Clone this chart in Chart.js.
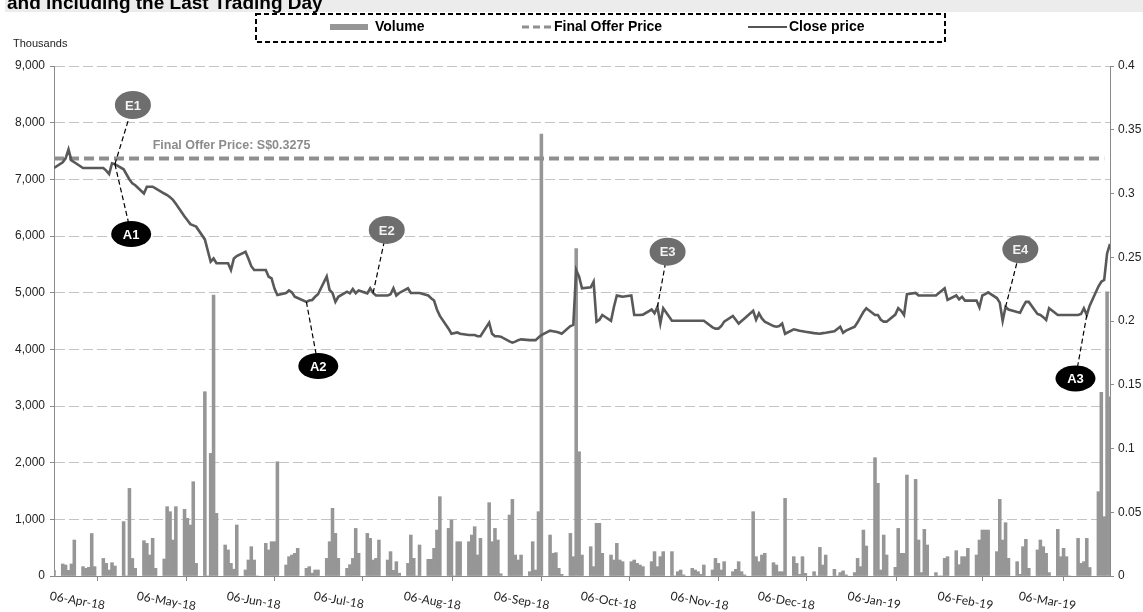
<!DOCTYPE html>
<html>
<head>
<meta charset="utf-8">
<title>Volume and close price</title>
<script src="https://cdn.jsdelivr.net/npm/chart.js@4.4.0/dist/chart.umd.min.js"></script>
<style>
  html, body { margin: 0; padding: 0; background: #fff; }
  #wrap { position: relative; width: 1143px; height: 612px; }
</style>
</head>
<body>
<div id="wrap"><canvas id="priceChart" width="1143" height="612"></canvas></div>
<script>
// day 0 = 06-Apr-18, last day = 05-Apr-19; one value per weekday
const lastDay = 364;
const monthTicks = [0, 30, 61, 91, 122, 153, 183, 214, 244, 275, 306, 334];
const monthLabels = ['06-Apr-18', '06-May-18', '06-Jun-18', '06-Jul-18', '06-Aug-18', '06-Sep-18',
  '06-Oct-18', '06-Nov-18', '06-Dec-18', '06-Jan-19', '06-Feb-19', '06-Mar-19'];

const volumeTicks = [0, 1000, 2000, 3000, 4000, 5000, 6000, 7000, 8000, 9000];
const priceTicks = [0, 0.05, 0.1, 0.15, 0.2, 0.25, 0.3, 0.35, 0.4];

const finalOfferPrice = 0.3275;

// traded volume ('000 shares), Fri 06-Apr-18 then Mon..Fri per week
const volume = [
  100,
  212, 194, 100, 212, 635,
  165, 135, 153, 750, 165,
  310, 223, 105, 235, 176,
  960, 0, 1546, 310, 135,
  623, 576, 370, 665, 135,
  300, 1223, 1135, 635, 1223,
  1176, 1017, 900, 1664, 223,
  3252, 0, 2164, 4957, 1105,
  547, 460, 223, 120, 900,
  106, 282, 517, 282, 0,
  576, 460, 605, 605, 2016,
  194, 341, 370, 400, 488,
  135, 165, 50, 106, 106,
  311, 605, 1194, 752, 311,
  135, 200, 311, 840, 400,
  752, 664, 282, 311, 635,
  282, 430, 100, 253, 50,
  223, 723, 311, 0, 547,
  294, 294, 488, 811, 1400,
  840, 988, 0, 605, 605,
  605, 723, 870, 370, 664,
  1294, 605, 840, 635, 40,
  1076, 1352, 370, 282, 370,
  76, 605, 105, 1135, 7800,
  723, 400, 412, 135, 30,
  752, 341, 5780, 2193, 370,
  517, 165, 929, 929, 400,
  370, 282, 576, 282, 253,
  253, 282, 223, 194, 165,
  253, 430, 165, 341, 430,
  430, 0, 76, 106, 20,
  135, 106, 76, 30, 194,
  106, 311, 223, 106, 253,
  76, 118, 253, 76, 20,
  1135, 341, 253, 370, 400,
  235, 194, 76, 76, 1370,
  341, 223, 30, 341, 47,
  76, 0, 505, 194, 370,
  118, 0, 60, 90, 20,
  60, 311, 165, 811, 529,
  2088, 1635, 106, 723, 370,
  153, 840, 400, 400, 1782,
  1705, 635, 60, 823, 547,
  60, 0, 0, 311, 341,
  447, 200, 341, 341, 488,
  370, 635, 811, 811, 811,
  430, 1352, 635, 941, 311,
  253, 30, 517, 647, 135,
  460, 635, 517, 400, 60,
  823, 341, 488, 341, 0,
  664, 223, 253, 664, 150,
  1488, 3240, 1047, 5016, 3164
];

// close price (S$), same layout; null on market holidays
const closePrice = [
  0.320,
  0.3245, 0.3276, 0.3346, 0.326, 0.3245,
  0.320, 0.320, 0.320, 0.320, 0.320,
  0.320, 0.318, 0.3153, 0.3237, 0.323,
  0.319, null, 0.311, 0.308, 0.3065,
  0.300, 0.3053, 0.3053, 0.3053, 0.304,
  0.300, 0.2988, 0.297, 0.295, 0.292,
  0.282, 0.279, 0.276, 0.275, 0.274,
  0.264, null, 0.2465, 0.249, 0.2453,
  0.2453, 0.2453, 0.240, 0.249, 0.251,
  0.2543, 0.249, 0.243, 0.240, null,
  0.240, 0.2347, 0.2335, 0.2255, 0.2204,
  0.222, 0.224, 0.2225, 0.219, 0.218,
  0.215, 0.216, 0.2165, 0.219, 0.221,
  0.235, 0.2243, 0.222, 0.215, 0.219,
  0.223, 0.2217, 0.225, 0.2217, 0.224,
  0.2217, 0.2257, 0.222, 0.220, 0.220,
  0.220, 0.221, 0.2257, 0.220, 0.222,
  0.2257, 0.222, 0.222, null, 0.222,
  0.220, 0.2178, 0.216, 0.209, 0.204,
  0.194, 0.190, null, 0.191, 0.190,
  0.189, 0.189, 0.189, 0.188, 0.188,
  0.1987, 0.190, 0.188, 0.188, 0.1877,
  0.184, 0.183, 0.1838, 0.185, 0.1856,
  0.185, 0.185, 0.185, 0.187, 0.189,
  0.1924, 0.192, 0.1916, 0.191, 0.190,
  0.196, 0.197, 0.240, 0.2348, 0.2257,
  0.2264, 0.2308, 0.1995, 0.201, 0.2047,
  0.2002, 0.211, 0.220, 0.2195, 0.219,
  0.220, 0.2047, 0.2047, 0.2047, 0.205,
  0.209, 0.206, 0.211, 0.198, 0.210,
  0.2002, null, 0.2002, 0.2002, 0.2002,
  0.2002, 0.2002, 0.2002, 0.2002, 0.2002,
  0.195, 0.194, 0.194, 0.196, 0.1995,
  0.204, 0.201, 0.198, 0.200, 0.202,
  0.208, 0.201, 0.206, 0.202, 0.1995,
  0.196, 0.1955, 0.196, 0.198, 0.190,
  0.1935, 0.193, 0.1924, 0.192, 0.1915,
  0.1905, null, 0.190, 0.1905, 0.1908,
  0.192, null, 0.1955, 0.1908, 0.1924,
  0.1955, 0.199, 0.203, 0.207, 0.210,
  0.2047, 0.2047, 0.201, 0.1995, 0.1995,
  0.205, 0.210, 0.208, 0.2047, 0.221,
  0.222, 0.220, 0.220, 0.220, 0.220,
  0.220, null, null, 0.2257, 0.2165,
  0.220, 0.217, 0.219, 0.216, 0.216,
  0.216, 0.2107, 0.220, 0.221, 0.2225,
  0.218, 0.2144, 0.2002, 0.211, 0.209,
  0.207, 0.2065, 0.211, 0.215, 0.215,
  0.2055, 0.2047, 0.203, 0.2008, 0.210,
  0.2047, 0.2047, 0.2047, 0.2047, 0.2047,
  0.2047, 0.2055, 0.210, 0.2047, 0.212,
  0.227, 0.2308, 0.2322, 0.253, 0.2604
];

// event / announcement markers: day on the close line, bubble centre (day, price)
const callouts = [
  { text: 'E1', day: 21, at: [27.2, 0.3694], kind: 'E' },
  { text: 'A1', day: 21, at: [26.6, 0.2682], kind: 'A' },
  { text: 'E2', day: 110, at: [114.7, 0.2714], kind: 'E' },
  { text: 'A2', day: 87, at: [91.1, 0.1647], kind: 'A' },
  { text: 'E3', day: 208, at: [211.5, 0.2544], kind: 'E' },
  { text: 'E4', day: 328, at: [333.1, 0.2562], kind: 'E' },
  { text: 'A3', day: 356, at: [352.1, 0.155], kind: 'A' }
];

const tradingDays = [];
for (let d = 0; d <= lastDay; d++) {
  const wd = new Date(2018, 3, 6 + d).getDay();
  if (wd !== 0 && wd !== 6) tradingDays.push(d);
}

const AXIS = '#8a8a8a';
const FONT = '"Liberation Sans", Arial, sans-serif';

const decor = {
  id: 'decor',
  afterDraw(chart) {
    const { ctx, scales } = chart;
    const x = scales.x, y1 = scales.y1;
    ctx.save();

    // heading strip (cut at the top)
    ctx.fillStyle = '#ececec';
    ctx.fillRect(5, 0, 1138, 12);
    ctx.fillStyle = '#000';
    ctx.font = 'bold 19px ' + FONT;
    ctx.textBaseline = 'alphabetic';
    ctx.textAlign = 'left';
    ctx.fillText('and including the Last Trading Day', 7, 9);

    // legend
    ctx.strokeStyle = '#000';
    ctx.lineWidth = 2;
    ctx.setLineDash([5, 3]);
    ctx.strokeRect(256, 14, 689, 28);
    ctx.setLineDash([]);
    const ly = 27;
    ctx.font = 'bold 14px "Liberation Sans Narrow", ' + FONT;
    ctx.textBaseline = 'middle';
    ctx.fillStyle = '#969696';
    ctx.fillRect(330, ly - 3, 38, 6);
    ctx.fillStyle = '#000';
    ctx.fillText(chart.data.datasets[0].label, 375, ly);
    ctx.strokeStyle = '#8f8f8f';
    ctx.lineWidth = 3;
    ctx.setLineDash([7, 4]);
    ctx.beginPath(); ctx.moveTo(522, ly); ctx.lineTo(553, ly); ctx.stroke();
    ctx.setLineDash([]);
    ctx.fillText(chart.data.datasets[1].label, 554, ly);
    ctx.strokeStyle = '#555';
    ctx.lineWidth = 2;
    ctx.beginPath(); ctx.moveTo(748, ly); ctx.lineTo(787, ly); ctx.stroke();
    ctx.fillText(chart.data.datasets[2].label, 789, ly);

    // unit label for the left axis
    ctx.font = '11px ' + FONT;
    ctx.fillStyle = '#222';
    ctx.fillText('Thousands', 13, 44);

    // slanted month labels
    ctx.font = '12px Lato, "Open Sans", sans-serif';
    ctx.fillStyle = '#222';
    ctx.textBaseline = 'top';
    monthTicks.forEach((d, i) => {
      const px = x.getPixelForValue(d);
      ctx.save();
      ctx.translate(px - 3, 590);
      ctx.rotate(10 * Math.PI / 180);
      ctx.fillText(monthLabels[i], 0, 0);
      ctx.restore();
    });

    // offer price caption
    ctx.font = 'bold 12.5px ' + FONT;
    ctx.fillStyle = '#8c8c8c';
    ctx.textBaseline = 'middle';
    ctx.fillText('Final Offer Price: S$' + finalOfferPrice, x.getPixelForValue(34), y1.getPixelForValue(finalOfferPrice) - 13);

    // callout bubbles with dashed leaders
    callouts.forEach(c => {
      const idx = tradingDays.indexOf(c.day);
      const tx = x.getPixelForValue(c.day);
      const ty = y1.getPixelForValue(closePrice[idx]);
      const cx = x.getPixelForValue(c.at[0]);
      const cy = y1.getPixelForValue(c.at[1]);
      ctx.strokeStyle = '#000';
      ctx.lineWidth = 1.2;
      ctx.setLineDash([5, 3]);
      ctx.beginPath(); ctx.moveTo(tx, ty); ctx.lineTo(cx, cy); ctx.stroke();
      ctx.setLineDash([]);
      const rx = c.kind === 'E' ? 18 : 20;
      const ry = c.kind === 'E' ? 14 : 13;
      ctx.fillStyle = c.kind === 'E' ? '#6e6e6e' : '#000';
      ctx.beginPath(); ctx.ellipse(cx, cy, rx, ry, 0, 0, Math.PI * 2); ctx.fill();
      ctx.fillStyle = c.kind === 'E' ? '#f2f2f2' : '#fff';
      ctx.font = 'bold 13px ' + FONT;
      ctx.textAlign = 'center';
      ctx.textBaseline = 'middle';
      ctx.fillText(c.text, cx, cy + 1);
      ctx.textAlign = 'left';
    });

    ctx.restore();
  }
};

new Chart(document.getElementById('priceChart'), {
  type: 'bar',
  data: {
    datasets: [
      {
        type: 'bar',
        label: 'Volume',
        yAxisID: 'y',
        data: tradingDays.map((d, i) => ({ x: d, y: volume[i] })),
        backgroundColor: '#969696',
        barPercentage: 1,
        categoryPercentage: 1,
        order: 3
      },
      {
        type: 'line',
        label: 'Final Offer Price',
        yAxisID: 'y1',
        data: [{ x: 0, y: finalOfferPrice }, { x: 362, y: finalOfferPrice }],
        borderColor: '#8f8f8f',
        borderWidth: 4,
        borderDash: [10, 5],
        pointRadius: 0,
        order: 2
      },
      {
        type: 'line',
        label: 'Close price',
        yAxisID: 'y1',
        data: tradingDays.map((d, i) => ({ x: d, y: closePrice[i] })),
        borderColor: '#595959',
        borderWidth: 2.6,
        pointRadius: 0,
        tension: 0,
        spanGaps: true,
        order: 1
      }
    ]
  },
  options: {
    responsive: false,
    animation: false,
    devicePixelRatio: 1,
    layout: { padding: { top: 66, left: 0, right: 0, bottom: 0 } },
    plugins: { legend: { display: false }, tooltip: { enabled: false } },
    scales: {
      x: {
        type: 'linear',
        min: 0,
        max: lastDay,
        offset: false,
        afterBuildTicks: s => { s.ticks = monthTicks.map(v => ({ value: v })); },
        afterFit: s => { s.height = 36; },
        ticks: { display: false },
        grid: { drawOnChartArea: false, drawTicks: true, tickLength: 5, color: AXIS },
        border: { color: AXIS, width: 1 }
      },
      y: {
        position: 'left',
        min: 0,
        max: 9000,
        afterBuildTicks: s => { s.ticks = volumeTicks.map(v => ({ value: v })); },
        afterFit: s => { s.width = 54; },
        ticks: {
          color: '#222',
          font: { family: FONT, size: 12 },
          padding: 5,
          callback: v => v.toLocaleString('en-US')
        },
        grid: { color: '#c4c4c4', tickColor: AXIS, tickLength: 4, lineWidth: 1 },
        border: { color: AXIS, width: 1, dash: [10, 4] }
      },
      y1: {
        position: 'right',
        min: 0,
        max: 0.4,
        afterBuildTicks: s => { s.ticks = priceTicks.map(v => ({ value: v })); },
        afterFit: s => { s.width = 33; },
        ticks: {
          color: '#222',
          font: { family: FONT, size: 12 },
          padding: 4,
          callback: v => String(parseFloat(v.toFixed(2)))
        },
        grid: { drawOnChartArea: false, tickColor: AXIS, tickLength: 4 },
        border: { color: AXIS, width: 1 }
      }
    }
  },
  plugins: [decor]
});
</script>
</body>
</html>
